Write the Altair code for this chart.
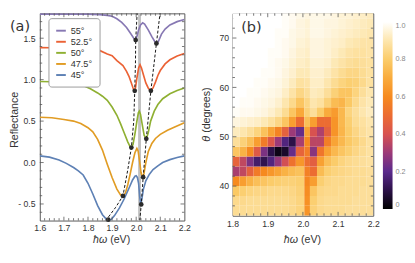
import altair as alt
import pandas as pd

FONT = "Liberation Sans"
PANEL_FONT = "DejaVu Sans"
INK = "#333333"
FRAME = "#555555"

# ---------------- panel (a): reflectance spectra (offset) ----------------
ANGLES = ["55°", "52.5°", "50°", "47.5°", "45°"]
CURVE_COLORS = ["#8778B3", "#EB6235", "#8FB032", "#E19C24", "#5E81B5"]

W55 = [1.60, 1.70, 1.80, 1.85, 1.88, 1.90, 1.92, 1.94, 1.96, 1.975, 1.990, 1.997, 2.003, 2.010,
       2.018, 2.027, 2.035, 2.050, 2.065, 2.077, 2.084, 2.092, 2.105, 2.120, 2.140, 2.170, 2.200]
R55 = [1.79, 1.79, 1.79, 1.785, 1.775, 1.765, 1.735, 1.69, 1.63, 1.565, 1.50, 1.478, 1.52, 1.60,
       1.66, 1.685, 1.67, 1.60, 1.52, 1.46, 1.437, 1.46, 1.55, 1.61, 1.66, 1.70, 1.725]

W525 = [1.60, 1.65, 1.70, 1.75, 1.80, 1.85, 1.88, 1.90, 1.92, 1.945, 1.96, 1.97, 1.98, 1.987, 1.992,
        1.997, 2.003, 2.010, 2.016, 2.022, 2.030, 2.040, 2.050, 2.060, 2.070, 2.080, 2.090, 2.100,
        2.120, 2.140, 2.170, 2.200]
R525 = [1.387, 1.385, 1.38, 1.375, 1.365, 1.35, 1.31, 1.29, 1.23, 1.17, 1.10, 1.04, 0.96, 0.90, 0.865,
        0.90, 1.02, 1.14, 1.18, 1.14, 1.06, 0.96, 0.90, 0.865, 0.90, 0.97, 1.05, 1.11,
        1.19, 1.24, 1.285, 1.315]

W50 = [1.60, 1.65, 1.70, 1.75, 1.78, 1.81, 1.84, 1.86, 1.88, 1.90, 1.92, 1.935, 1.95, 1.965, 1.975,
       1.980, 1.987, 1.995, 2.003, 2.009, 2.013, 2.018, 2.025, 2.033, 2.042, 2.050, 2.060, 2.075,
       2.090, 2.110, 2.140, 2.170, 2.200]
R50 = [0.978, 0.975, 0.97, 0.95, 0.93, 0.89, 0.84, 0.80, 0.75, 0.67, 0.57, 0.47, 0.36, 0.25, 0.19,
       0.18, 0.22, 0.35, 0.50, 0.60, 0.62, 0.58, 0.46, 0.33, 0.285, 0.36, 0.50, 0.62,
       0.70, 0.77, 0.83, 0.87, 0.90]

W475 = [1.60, 1.65, 1.70, 1.74, 1.77, 1.80, 1.82, 1.84, 1.86, 1.88, 1.90, 1.92, 1.935, 1.945, 1.955,
        1.965, 1.975, 1.985, 1.995, 2.003, 2.008, 2.014, 2.020, 2.027, 2.032, 2.040, 2.050, 2.065,
        2.080, 2.100, 2.130, 2.160, 2.200]
R475 = [0.547, 0.54, 0.52, 0.50, 0.47, 0.42, 0.37, 0.28, 0.15, -0.02, -0.18, -0.32, -0.39, -0.405, -0.37,
        -0.27, -0.14, 0.0, 0.12, 0.17, 0.14, 0.02, -0.12, -0.18, -0.14, 0.0, 0.13, 0.23,
        0.29, 0.34, 0.39, 0.43, 0.48]

W45 = [1.60, 1.64, 1.68, 1.71, 1.74, 1.76, 1.78, 1.80, 1.82, 1.84, 1.86, 1.875, 1.885, 1.895, 1.91,
       1.93, 1.95, 1.97, 1.985, 1.995, 2.000, 2.005, 2.010, 2.015, 2.019, 2.023, 2.030, 2.040,
       2.055, 2.070, 2.090, 2.110, 2.140, 2.170, 2.200]
R45 = [0.08, 0.065, 0.03, -0.01, -0.06, -0.10, -0.15, -0.25, -0.38, -0.52, -0.63, -0.68, -0.705, -0.69, -0.64,
       -0.55, -0.44, -0.31, -0.21, -0.165, -0.16, -0.18, -0.25, -0.42, -0.50, -0.45, -0.32, -0.22,
       -0.14, -0.085, -0.04, 0.0, 0.035, 0.06, 0.08]

# dashed polariton branches
DL_W = [1.872, 1.888, 1.915, 1.945, 1.965, 1.980, 1.990, 1.994, 1.997, 1.998, 2.004]
DL_R = [-0.70, -0.645, -0.54, -0.403, -0.09, 0.18, 0.50, 0.865, 1.20, 1.478, 1.80]
DR_W = [2.015, 2.021, 2.029, 2.042, 2.061, 2.084, 2.099]
DR_R = [-0.70, -0.505, -0.176, 0.286, 0.865, 1.437, 1.80]

# marked minima
PT_W = [1.998, 2.084, 1.994, 2.061, 1.980, 2.042, 1.945, 2.029, 1.884, 2.021]
PT_R = [1.478, 1.437, 0.865, 0.865, 0.18, 0.286, -0.403, -0.176, -0.69, -0.505]

BAND = [2.008, 2.020]

XA_TICKS = [1.6, 1.7, 1.8, 1.9, 2.0, 2.1, 2.2]
YA_TICKS = [-0.5, 0.0, 0.5, 1.0, 1.5]

# ---------------- panel (b): reflectance map ----------------
HX_EDGES = [1.80, 1.82, 1.84, 1.86, 1.88, 1.90, 1.92, 1.94, 1.96, 1.98, 2.004,
            2.02, 2.04, 2.06, 2.08, 2.10, 2.12, 2.14, 2.16, 2.18, 2.20]
HY_EDGES = [34, 36, 38, 40, 42, 44, 46, 48, 50, 52, 54, 56, 58, 60, 62, 64, 66, 68, 70, 72, 74, 76]
HEAT = [  # rows from theta 35 (bottom) to 75 (top)
    [.86, .86, .86, .86, .86, .86, .86, .86, .85, .83, .63, .82, .85, .86, .86, .86, .87, .87, .87, .87],
    [.85, .85, .86, .86, .86, .86, .86, .86, .85, .83, .62, .81, .85, .86, .86, .86, .86, .87, .87, .87],
    [.79, .81, .83, .84, .84, .85, .85, .85, .84, .82, .61, .78, .84, .85, .85, .86, .86, .86, .87, .87],
    [.60, .66, .72, .76, .78, .80, .81, .82, .82, .81, .59, .66, .81, .84, .85, .85, .86, .86, .86, .87],
    [.32, .36, .46, .55, .60, .64, .68, .72, .75, .77, .57, .50, .75, .81, .83, .84, .85, .86, .86, .87],
    [.47, .36, .25, .15, .11, .18, .29, .39, .52, .64, .51, .45, .67, .76, .80, .83, .85, .86, .87, .88],
    [.78, .72, .60, .43, .25, .10, .03, .06, .22, .47, .56, .27, .53, .67, .74, .78, .81, .84, .86, .88],
    [.87, .82, .76, .66, .55, .42, .30, .18, .10, .32, .60, .35, .35, .56, .68, .74, .79, .82, .85, .88],
    [.92, .90, .87, .83, .77, .68, .58, .46, .30, .22, .67, .40, .33, .46, .63, .73, .80, .84, .87, .89],
    [.96, .95, .94, .93, .91, .88, .84, .78, .66, .50, .76, .66, .50, .50, .63, .74, .81, .86, .88, .90],
    [.99, .98, .98, .97, .96, .94, .91, .86, .78, .69, .82, .87, .80, .70, .65, .74, .83, .87, .90, .92],
    [1.0, .99, .99, .98, .97, .96, .94, .90, .85, .78, .84, .90, .88, .82, .75, .73, .79, .85, .89, .91],
    [1.0, 1.0, .99, .99, .98, .97, .96, .93, .89, .84, .87, .92, .91, .87, .82, .78, .78, .83, .87, .90],
    [1.0, 1.0, 1.0, .99, .99, .98, .97, .95, .92, .88, .89, .93, .93, .90, .86, .83, .81, .82, .85, .88],
    [1.0, 1.0, 1.0, 1.0, .99, .99, .98, .96, .94, .91, .91, .94, .94, .92, .89, .86, .84, .84, .86, .88],
    [1.0, 1.0, 1.0, 1.0, 1.0, .99, .98, .97, .95, .93, .92, .95, .95, .94, .91, .89, .87, .86, .87, .88],
    [1.0, 1.0, 1.0, 1.0, 1.0, .99, .99, .98, .96, .94, .93, .96, .96, .95, .93, .91, .89, .88, .88, .89],
    [1.0, 1.0, 1.0, 1.0, 1.0, 1.0, .99, .98, .97, .95, .94, .96, .96, .95, .94, .93, .91, .90, .89, .89],
    [1.0, 1.0, 1.0, 1.0, 1.0, 1.0, .99, .99, .97, .96, .95, .97, .97, .96, .95, .94, .93, .92, .91, .90],
    [1.0, 1.0, 1.0, 1.0, 1.0, 1.0, 1.0, .99, .98, .96, .95, .97, .97, .96, .96, .95, .94, .93, .92, .91],
    [1.0, 1.0, 1.0, 1.0, 1.0, 1.0, 1.0, .99, .98, .97, .96, .97, .97, .97, .96, .95, .95, .94, .93, .92],
]
CMAP_STOPS = [0.0, 0.1, 0.2, 0.3, 0.4, 0.5, 0.6, 0.7, 0.8, 0.9, 1.0]
CMAP_COLORS = ["#000000", "#2c1148", "#5a2a8c", "#9c3a78", "#d85250", "#ec6c32",
               "#f68a1f", "#f9ab3c", "#fbcc6a", "#fde6ae", "#ffffff"]
CBAR_TICKS = [0.0, 0.2, 0.4, 0.6, 0.8, 1.0]

XB_TICKS = [1.8, 1.9, 2.0, 2.1, 2.2]
YB_TICKS = [40, 50, 60, 70]

# ---------------- sizes ----------------
W1, H1 = 150, 215
W2, H2 = 146, 210
MAJ, MIN = 4, 2.5

# ---------------- build tables ----------------
curve_rows = []
for ang, ws, rs in [("55°", W55, R55), ("52.5°", W525, R525), ("50°", W50, R50),
                    ("47.5°", W475, R475), ("45°", W45, R45)]:
    for w, r in zip(ws, rs):
        curve_rows.append({"angle": ang, "w": w, "r": r})
curves = pd.DataFrame(curve_rows)

dash_rows = [{"branch": "lower", "w": w, "r": r} for w, r in zip(DL_W, DL_R)] + \
            [{"branch": "upper", "w": w, "r": r} for w, r in zip(DR_W, DR_R)]
dashes = pd.DataFrame(dash_rows)
points = pd.DataFrame({"w": PT_W, "r": PT_R})
band = pd.DataFrame({"x0": [BAND[0]], "x1": [BAND[1]]})

heat_rows = []
for i, row in enumerate(HEAT):
    for j, v in enumerate(row):
        heat_rows.append({"x0": HX_EDGES[j], "x1": HX_EDGES[j + 1],
                          "y0": HY_EDGES[i], "y1": HY_EDGES[i + 1], "v": v})
heat = pd.DataFrame(heat_rows)


def minor_ticks(lo, hi, step, majors):
    n = int(round((hi - lo) / step))
    vals = [round(lo + step * k, 4) for k in range(1, n)]
    return [v for v in vals if all(abs(v - m) > 1e-6 for m in majors)]


def tick_layers(data_major, data_minor_x, data_major_y, data_minor_y, X, Y, W, H):
    layers = []
    for vals, ln in [(data_major, MAJ), (data_minor_x, MIN)]:
        df = pd.DataFrame({"t": vals})
        layers.append(alt.Chart(df).mark_rule(color=FRAME, strokeWidth=0.8).encode(
            x=X("t"), y=alt.value(H), y2=alt.value(H - ln)))
        layers.append(alt.Chart(df).mark_rule(color=FRAME, strokeWidth=0.8).encode(
            x=X("t"), y=alt.value(0), y2=alt.value(ln)))
    for vals, ln in [(data_major_y, MAJ), (data_minor_y, MIN)]:
        df = pd.DataFrame({"t": vals})
        layers.append(alt.Chart(df).mark_rule(color=FRAME, strokeWidth=0.8).encode(
            y=Y("t"), x=alt.value(0), x2=alt.value(ln)))
        layers.append(alt.Chart(df).mark_rule(color=FRAME, strokeWidth=0.8).encode(
            y=Y("t"), x=alt.value(W), x2=alt.value(W - ln)))
    return layers


def label_chart(text, x, y, size=11, italic=False, align="left", angle=0, font=FONT):
    kw = dict(fontSize=size, align=align, baseline="middle", font=font, color=INK)
    if italic:
        kw["fontStyle"] = "italic"
    if angle:
        kw["angle"] = angle
    return alt.Chart(pd.DataFrame({"t": [text]})).mark_text(**kw).encode(
        x=alt.value(x), y=alt.value(y), text="t:N")


# ---------------- panel (a) ----------------
xa_scale = alt.Scale(domain=[1.6, 2.2], nice=False, zero=False)
ya_scale = alt.Scale(domain=[-0.7, 1.8], nice=False, zero=False)
xa_axis = alt.Axis(values=XA_TICKS, format=".1f", labelFlush=False, labelOverlap=False,
                   ticks=False, domain=False, grid=False, title=None, labelPadding=3)
ya_axis = alt.Axis(values=YA_TICKS,
                   labelExpr="datum.value < 0 ? '- ' + format(-datum.value, '.1f') : format(datum.value, '.1f')",
                   labelFlush=False, labelOverlap=False, ticks=False, domain=False, grid=False,
                   title=None, labelPadding=5)


def XA(f):
    return alt.X(f"{f}:Q", scale=xa_scale, axis=xa_axis)


def YA(f):
    return alt.Y(f"{f}:Q", scale=ya_scale, axis=ya_axis)


band_layer = alt.Chart(band).mark_rect(color="#c2c2c2").encode(
    x=XA("x0"), x2="x1", y=alt.value(0), y2=alt.value(H1))

curve_layer = alt.Chart(curves).mark_line(strokeWidth=1.7, clip=True).encode(
    x=XA("w"), y=YA("r"),
    color=alt.Color("angle:N", scale=alt.Scale(domain=ANGLES, range=CURVE_COLORS),
                    legend=alt.Legend(title=None, orient="none", legendX=9, legendY=5,
                                      symbolType="stroke", symbolSize=100, symbolStrokeWidth=2,
                                      labelFontSize=9.5, labelColor=INK, labelFont=FONT,
                                      fillColor="white", strokeColor="#999999",
                                      cornerRadius=3, padding=7, rowPadding=0.5,
                                      labelOffset=4)),
    detail="angle:N")

dash_layer = alt.Chart(dashes).mark_line(color="#111111", strokeWidth=1, strokeDash=[3, 2],
                                         clip=True).encode(
    x=XA("w"), y=YA("r"), detail="branch:N")

point_layer = alt.Chart(points).mark_circle(color="#2a2a2a", opacity=1, size=24).encode(
    x=XA("w"), y=YA("r"))

ticks_a = tick_layers(XA_TICKS[1:-1], minor_ticks(1.6, 2.2, 0.02, XA_TICKS),
                      YA_TICKS, minor_ticks(-0.7, 1.8, 0.1, YA_TICKS), XA, YA, W1, H1)

left = alt.layer(
    band_layer, curve_layer, dash_layer, point_layer, *ticks_a,
    label_chart("(a)", -31, 13, size=15, font=PANEL_FONT),
    label_chart("Reflectance", -26, H1 / 2 + 3, align="center", angle=270),
    label_chart("ħω", W1 / 2 - 5.1, H1 + 20, italic=True, align="right"),
    label_chart("(eV)", W1 / 2 - 2.0, H1 + 20, align="left"),
).properties(width=W1, height=H1)

# ---------------- panel (b) ----------------
xb_scale = alt.Scale(domain=[1.8, 2.2], nice=False, zero=False)
yb_scale = alt.Scale(domain=[34, 75], nice=False, zero=False)
xb_axis = alt.Axis(values=XB_TICKS, format=".1f", labelFlush=False, labelOverlap=False,
                   ticks=False, domain=False, grid=False, title=None, labelPadding=4)
yb_axis = alt.Axis(values=YB_TICKS, format="d", labelFlush=False, labelOverlap=False,
                   ticks=False, domain=False, grid=False, title=None, labelPadding=4)


def XB(f):
    return alt.X(f"{f}:Q", scale=xb_scale, axis=xb_axis)


def YB(f):
    return alt.Y(f"{f}:Q", scale=yb_scale, axis=yb_axis)


heat_layer = alt.Chart(heat).mark_rect(clip=True, opacity=1).encode(
    x=XB("x0"), x2="x1", y=YB("y0"), y2="y1",
    color=alt.Color("v:Q",
                    scale=alt.Scale(type="linear", domain=CMAP_STOPS, range=CMAP_COLORS,
                                    interpolate="rgb", nice=False, zero=False),
                    legend=alt.Legend(type="gradient", title=None, orient="none",
                                      legendX=W2 + 10, legendY=9,
                                      direction="vertical", gradientLength=194,
                                      gradientThickness=10, gradientStrokeWidth=0,
                                      values=CBAR_TICKS,
                                      labelExpr="datum.value == 0 ? '0' : format(datum.value, '.1f')",
                                      labelFontSize=7.5, labelColor="#888888", labelFont=FONT,
                                      labelOffset=3, padding=0)))

ticks_b = tick_layers(XB_TICKS[1:-1], minor_ticks(1.8, 2.2, 0.02, XB_TICKS),
                      YB_TICKS, minor_ticks(34, 74, 2, YB_TICKS), XB, YB, W2, H2)

cy = H2 / 2
right = alt.layer(
    heat_layer, *ticks_b,
    label_chart("(b)", 9, 14, size=15, font=PANEL_FONT),
    label_chart("ħω", W2 / 2 - 5.1, H2 + 25, italic=True, align="right"),
    label_chart("(eV)", W2 / 2 - 2.0, H2 + 25, align="left"),
    label_chart("θ", -26, cy + 28.2, italic=True, align="left", angle=270),
    label_chart("(degrees)", -26, cy + 19.0, align="left", angle=270),
).properties(width=W2, height=H2)

chart = alt.hconcat(left, right, spacing=10).resolve_scale(
    x="independent", y="independent", color="independent"
).properties(
    padding={"left": 0, "right": 0, "top": 0, "bottom": 0}
).configure(font=FONT).configure_view(
    stroke=FRAME, strokeWidth=1
).configure_axis(
    labelFont=FONT, titleFont=FONT, labelFontSize=9, titleFontSize=11,
    titleFontWeight="normal", labelColor=INK, titleColor=INK
)

chart.save("out.html", embed_options={"renderer": "svg", "actions": False})
